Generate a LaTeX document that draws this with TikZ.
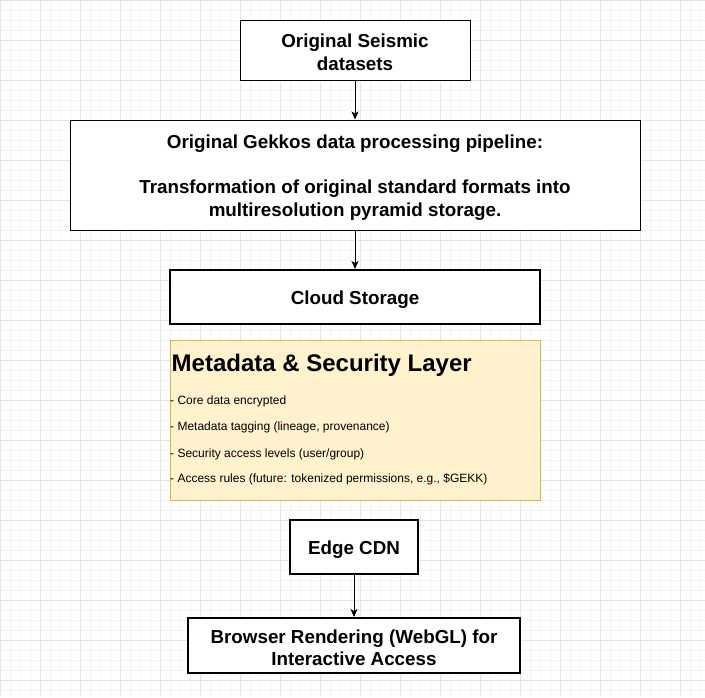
\documentclass[tikz,border=0pt]{standalone}
\usepackage{fontspec}
\setmainfont{Liberation Sans}
\usetikzlibrary{arrows.meta}
\definecolor{gridmajor}{HTML}{E4E4E4}
\definecolor{gridminor}{HTML}{F4F4F4}
\definecolor{notefill}{HTML}{FFF2CC}
\definecolor{notedraw}{HTML}{D6B656}
\newcommand\boxstrut{\rule{0pt}{18.6pt}}

\begin{document}
\begin{tikzpicture}[x=1pt,y=-1pt,
    box/.style={draw=black,line width=1pt,fill=white,align=center,inner sep=0pt,
      font=\fontsize{18.8}{22.5}\selectfont\bfseries},
    thickbox/.style={box,line width=2pt},
    flow/.style={-{Stealth[length=8pt,width=7pt,inset=2pt]},line width=1pt},
    item/.style={anchor=west,inner sep=0pt,font=\fontsize{12}{14}\selectfont}]
      \useasboundingbox (0,0) rectangle (705,697);
      \fill[white] (0,0) rectangle (705,697);
      \foreach \i in {0,10,...,700} \draw[gridminor,line width=0.8pt] (\i,0) -- (\i,697);
      \foreach \i in {0,10,...,690} \draw[gridminor,line width=0.8pt] (0,\i) -- (705,\i);
      \foreach \i in {0,40,...,700} \draw[gridmajor,line width=0.8pt] (\i,0) -- (\i,697);
      \foreach \i in {0,40,...,680} \draw[gridmajor,line width=0.8pt] (0,\i) -- (705,\i);

      \node[box,minimum width=230pt,minimum height=60pt] (seismic) at (355,50) {\boxstrut Original Seismic\\datasets};
      \node[box,minimum width=570pt,minimum height=110pt] (pipeline) at (355,175)
        {\boxstrut Original Gekkos data processing pipeline:\\[22.5pt]Transformation of original standard formats into\\multiresolution pyramid storage.};
      \node[thickbox,minimum width=370pt,minimum height=54pt] (cloud) at (355,297) {\boxstrut Cloud Storage};

      \node[draw=notedraw,fill=notefill,line width=1pt,minimum width=370pt,minimum height=160pt,inner sep=0pt] (meta) at (355,420) {};
      \node[item,font=\fontsize{24}{28}\selectfont\bfseries] (metatitle) at (171.5,365) {Metadata \& Security Layer};
      \node[item] (tag1) at (170,401) {- Core data encrypted};
      \node[item] (tag2) at (170,427.5) {- Metadata tagging (lineage, provenance)};
      \node[item] (tag3) at (170,454) {- Security access levels (user/group)};
      \node[item] (tag4) at (170,479.5) {- Access rules (future: tokenized permissions, e.g., \$GEKK)};

      \node[thickbox,minimum width=128pt,minimum height=54pt] (edge) at (354,547) {\boxstrut Edge CDN};
      \node[thickbox,minimum width=332pt,minimum height=55pt] (browser) at (354,645.5) {\boxstrut Browser Rendering (WebGL) for\\Interactive Access};

      \draw[flow] (seismic) -- (pipeline);
      \draw[flow] (pipeline) -- (cloud);
      \draw[flow] (edge) -- (browser);
    \end{tikzpicture}
\end{document}
